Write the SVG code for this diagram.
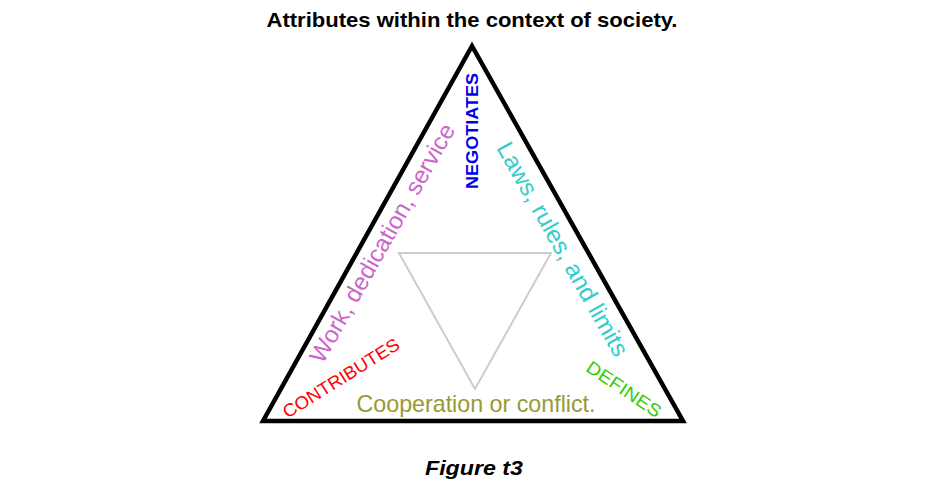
<svg xmlns="http://www.w3.org/2000/svg" width="944" height="487" viewBox="0 0 944 487">
<style>
text{font-family:"Liberation Sans",Arial,sans-serif;}
.title{font-size:21px;font-weight:bold;fill:#000}
.cap{font-size:21px;font-weight:bold;font-style:italic;fill:#000}
.lbl{font-size:24px}
.cap2{font-size:18px}
</style>
<rect width="944" height="487" fill="#fff"/>
<text class="title" x="472" y="27" text-anchor="middle" textLength="411" lengthAdjust="spacingAndGlyphs">Attributes within the context of society.</text>
<g id="outer">
<polygon points="472,46 263,421 683,421" fill="none" stroke="#000" stroke-width="4.5" stroke-linejoin="miter"/>
</g>
<g id="inner">
<polygon points="399,253 551,253 475,389" fill="none" stroke="#cccccc" stroke-width="2"/>
</g>
<g id="negotiates">
<text fill="#0000ee" font-weight="bold" font-size="16.5" transform="translate(472.5,131) rotate(-90)" y="5.8" text-anchor="middle" textLength="116" lengthAdjust="spacingAndGlyphs">NEGOTIATES</text>
</g>
<g id="work">
<text class="lbl" fill="#cc66cc" transform="translate(382,243) rotate(-60.5)" y="8.4" text-anchor="middle" textLength="270" lengthAdjust="spacingAndGlyphs">Work, dedication, service</text>
</g>
<g id="laws">
<text class="lbl" fill="#33cccc" transform="translate(563,249) rotate(60.5)" y="8.4" text-anchor="middle" textLength="242" lengthAdjust="spacingAndGlyphs">Laws, rules, and limits</text>
</g>
<g id="contributes">
<text class="cap2" fill="#ff0000" transform="translate(341,378) rotate(-32)" y="6.3" text-anchor="middle" textLength="134" lengthAdjust="spacingAndGlyphs">CONTRIBUTES</text>
</g>
<g id="defines">
<text class="cap2" fill="#33cc00" transform="translate(624,389) rotate(34)" y="6.3" text-anchor="middle" textLength="86" lengthAdjust="spacingAndGlyphs">DEFINES</text>
</g>
<g id="coop">
<text class="lbl" fill="#999933" x="476" y="412" text-anchor="middle" textLength="239" lengthAdjust="spacingAndGlyphs">Cooperation or conflict.</text>
</g>
<text class="cap" x="474" y="475" text-anchor="middle" textLength="98" lengthAdjust="spacingAndGlyphs">Figure t3</text>
</svg>
